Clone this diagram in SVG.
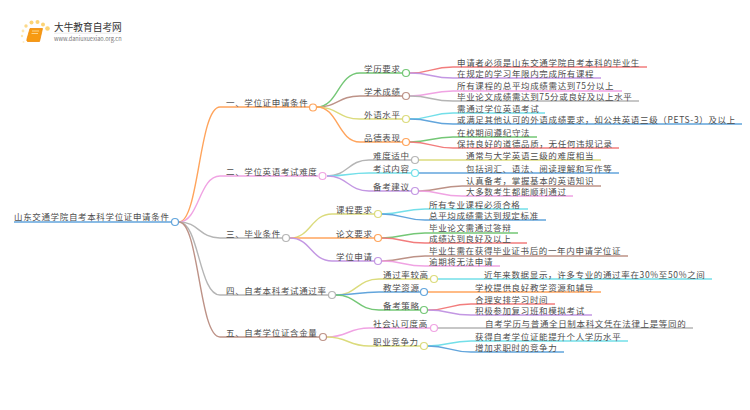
<svg xmlns="http://www.w3.org/2000/svg" width="750" height="410" viewBox="0 0 750 410">
<style>
text{font-family:"Noto Sans CJK SC","Noto Sans",sans-serif;font-size:8.500px;letter-spacing:.65px;fill:#4d4d4d}
path{fill:none;stroke-width:1.4}
circle{fill:#fff;stroke-width:1.2}
.dot{stroke:none}
.or{stroke:#ffa45c}.pk{stroke:#f0a3e3}.gy{stroke:#b5b5b5}.br{stroke:#bd9287}.bl{stroke:#62a5dc}
.gn{stroke:#74c776}.ye{stroke:#dbdb7c}.pu{stroke:#c397e3}.rd{stroke:#f27d7d}.cy{stroke:#73dfe9}
</style>
<rect width="750" height="410" fill="#fff"/>
<g id="logo">
<circle class="dot" cx="23" cy="31" r="1.4" style="fill:#fde7b0"/><circle class="dot" cx="22" cy="36" r="1.2" style="fill:#fde7b0"/><circle class="dot" cx="23.500" cy="42" r="1" style="fill:#fdeec8"/><circle class="dot" cx="26" cy="26" r="1.700" style="fill:#fcd98a"/><circle class="dot" cx="31.500" cy="22.500" r="2" style="fill:#fcd475"/><circle class="dot" cx="37.500" cy="22" r="2" style="fill:#fcd475"/><circle class="dot" cx="43" cy="24.500" r="2" style="fill:#fcd475"/><circle class="dot" cx="47.500" cy="28.500" r="2.300" style="fill:#fcd475"/>
<path d="M30 28.500H42.500L39.500 41.500H27.500Q26.500 41.500 27 39Z" style="fill:#f79a12;stroke:#ef8a0a;stroke-width:.8"/>
<path d="M32 31H39M31.500 33.500H38" style="stroke:#fde3a8;stroke-width:.8"/>
<text x="54" y="31" style="font-size:9.700px;letter-spacing:0;fill:#333">大牛教育自考网</text>
<path d="M54 33.200H121" style="stroke:#ddd;stroke-width:.6"/>
<text x="54" y="41" style="font-size:5.600px;letter-spacing:0;fill:#777">www.daniuxuexiao.org.cn</text>
</g>
<g id="connectors">
<path class="bl" d="M14 222H171"/>
<path class="or" d="M179 222C199 222 199 107 220 107H309"/>
<path class="pk" d="M179 222C199 222 199 176 220 176H318"/>
<path class="gy" d="M179 222C199 222 199 238 220 238H282"/>
<path class="gy" d="M179 222C199 222 199 295 220 295H328"/>
<path class="br" d="M179 222C199 222 199 337 220 337H319"/>
<path class="gn" d="M317 107C338 107 338 73 360 73H402"/>
<path class="br" d="M317 107C338 107 338 96 360 96H402"/>
<path class="ye" d="M317 107C338 107 338 119 360 119H402"/>
<path class="or" d="M317 107C338 107 338 142 360 142H402"/>
<path class="gy" d="M327 176C348 176 348 160 369 160H411"/>
<path class="cy" d="M327 176C348 176 348 173 369 173H411"/>
<path class="pu" d="M327 176C348 176 348 191 369 191H411"/>
<path class="ye" d="M290 238C311 238 311 214 332 214H374"/>
<path class="or" d="M290 238H374"/>
<path class="pu" d="M290 238C311 238 311 261 332 261H374"/>
<path class="ye" d="M336 295C357 295 357 279 379 279H430"/>
<path class="bl" d="M336 295C357 295 357 292 379 292H420"/>
<path class="gn" d="M336 295C357 295 357 310 379 310H420"/>
<path class="pk" d="M327 337C348 337 348 328 369 328H430"/>
<path class="ye" d="M327 337C348 337 348 346 369 346H420"/>
<path class="rd" d="M410 73C431 73 431 67 453 67H647"/>
<path class="pu" d="M410 73C431 73 431 78 453 78H601"/>
<path class="pk" d="M410 96C431 96 431 91 453 91H622"/>
<path class="gy" d="M410 96C431 96 431 101 453 101H639"/>
<path class="cy" d="M410 119C431 119 431 113 453 113H545"/>
<path class="bl" d="M410 119C431 119 431 124 453 124H742"/>
<path class="gn" d="M410 142C431 142 431 137 453 137H537"/>
<path class="rd" d="M410 142C431 142 431 148 453 148H619"/>
<path class="ye" d="M419 160H601"/>
<path class="bl" d="M419 173H619"/>
<path class="br" d="M419 191C440 191 440 186 462 186H601"/>
<path class="pk" d="M419 191C440 191 440 196 462 196H573"/>
<path class="cy" d="M382 214C403 214 403 209 425 209H528"/>
<path class="bl" d="M382 214C403 214 403 220 425 220H546"/>
<path class="gn" d="M382 238C403 238 403 233 425 233H518"/>
<path class="rd" d="M382 238C403 238 403 243 425 243H527"/>
<path class="br" d="M382 261C403 261 403 256 425 256H628"/>
<path class="pk" d="M382 261C403 261 403 266 425 266H500"/>
<path class="cy" d="M438 279H712"/>
<path class="or" d="M428 292H601"/>
<path class="rd" d="M428 310C449 310 449 304 471 304H555"/>
<path class="pu" d="M428 310C449 310 449 315 471 315H592"/>
<path class="gy" d="M438 328H693"/>
<path class="cy" d="M428 346C449 346 449 341 471 341H628"/>
<path class="bl" d="M428 346C449 346 449 352 471 352H564"/>
</g>
<g id="root"><text x="14" y="220">山东交通学院自考本科学位证申请条件</text><circle class="bl" cx="175" cy="222" r="3.500"/></g>
<g id="n1"><text x="226" y="105.500">一、学位证申请条件</text><circle class="or" cx="313" cy="107.500" r="3.500"/></g>
<g id="n2"><text x="226" y="174.500">二、学位英语考试难度</text><circle class="pk" cx="322.500" cy="176" r="3.500"/></g>
<g id="n3"><text x="226" y="236.500">三、毕业条件</text><circle class="gy" cx="286" cy="238" r="3.500"/></g>
<g id="n4"><text x="226" y="293.500">四、自考本科考试通过率</text><circle class="gy" cx="332" cy="295" r="3.500"/></g>
<g id="n5"><text x="226" y="335.500">五、自考学位证含金量</text><circle class="br" cx="323" cy="337" r="3.500"/></g>
<g id="n11"><text x="364" y="71.500">学历要求</text><circle class="gn" cx="406" cy="73" r="3.500"/></g>
<g id="n12"><text x="364" y="94.500">学术成绩</text><circle class="br" cx="406" cy="96" r="3.500"/></g>
<g id="n13"><text x="364" y="117.500">外语水平</text><circle class="ye" cx="406" cy="119" r="3.500"/></g>
<g id="n14"><text x="364" y="140.500">品德表现</text><circle class="or" cx="406" cy="142" r="3.500"/></g>
<g id="n21"><text x="373" y="158.500">难度适中</text><circle class="gy" cx="415" cy="160" r="3.500"/></g>
<g id="n22"><text x="373" y="171.500">考试内容</text><circle class="cy" cx="415" cy="173" r="3.500"/></g>
<g id="n23"><text x="373" y="189.500">备考建议</text><circle class="pu" cx="415" cy="191" r="3.500"/></g>
<g id="n31"><text x="336" y="212.500">课程要求</text><circle class="ye" cx="378" cy="214" r="3.500"/></g>
<g id="n32"><text x="336" y="236.500">论文要求</text><circle class="or" cx="378" cy="238" r="3.500"/></g>
<g id="n33"><text x="336" y="259.500">学位申请</text><circle class="pu" cx="378" cy="261" r="3.500"/></g>
<g id="n41"><text x="383" y="277.500">通过率较高</text><circle class="ye" cx="434" cy="279" r="3.500"/></g>
<g id="n42"><text x="383" y="290.500">教学资源</text><circle class="bl" cx="424" cy="292" r="3.500"/></g>
<g id="n43"><text x="383" y="308.500">备考策略</text><circle class="gn" cx="424" cy="310" r="3.500"/></g>
<g id="n51"><text x="373" y="326.500">社会认可度高</text><circle class="pk" cx="434" cy="328" r="3.500"/></g>
<g id="n52"><text x="373" y="344.500">职业竞争力</text><circle class="ye" cx="424" cy="346" r="3.500"/></g>
<g id="leaves">
<text x="457" y="65.500">申请者必须是山东交通学院自考本科的毕业生</text>
<text x="457" y="76.500">在规定的学习年限内完成所有课程</text>
<text x="457" y="89">所有课程的总平均成绩需达到75分以上</text>
<text x="457" y="100">毕业论文成绩需达到75分或良好及以上水平</text>
<text x="457" y="111.500">需通过学位英语考试</text>
<text x="457" y="122.500">或满足其他认可的外语成绩要求，如公共英语三级（PETS-3）及以上</text>
<text x="457" y="135.500">在校期间遵纪守法</text>
<text x="457" y="146.500">保持良好的道德品质，无任何违规记录</text>
<text x="466" y="158.500">通常与大学英语三级的难度相当</text>
<text x="466" y="171.500">包括词汇、语法、阅读理解和写作等</text>
<text x="466" y="184">认真备考，掌握基本的英语知识</text>
<text x="466" y="195">大多数考生都能顺利通过</text>
<text x="429" y="207.500">所有专业课程必须合格</text>
<text x="429" y="218.500">总平均成绩需达到规定标准</text>
<text x="429" y="231">毕业论文需通过答辩</text>
<text x="429" y="242">成绩达到良好及以上</text>
<text x="429" y="254">毕业生需在获得毕业证书后的一年内申请学位证</text>
<text x="429" y="265">逾期将无法申请</text>
<text x="484" y="277.500">近年来数据显示，许多专业的通过率在30%至50%之间</text>
<text x="475" y="290.500">学校提供良好教学资源和辅导</text>
<text x="475" y="302.500">合理安排学习时间</text>
<text x="475" y="313.500">积极参加复习班和模拟考试</text>
<text x="485" y="326.500">自考学历与普通全日制本科文凭在法律上是等同的</text>
<text x="475" y="339.500">获得自考学位证能提升个人学历水平</text>
<text x="475" y="350.500">增加求职时的竞争力</text>
</g>
</svg>
